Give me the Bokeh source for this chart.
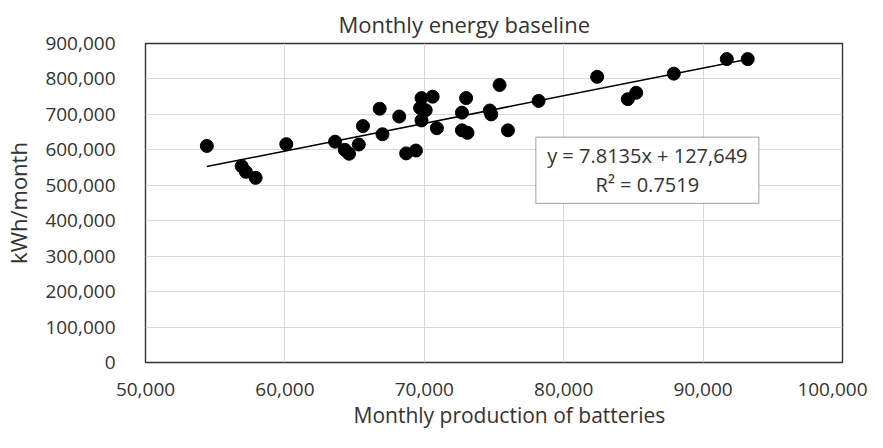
from bokeh.plotting import figure
from bokeh.models import (Range1d, NumeralTickFormatter, FixedTicker, Label,
                          BoxAnnotation, Title)
from bokeh.embed import file_html
from bokeh.resources import INLINE

# ---- data ----
batteries = [54400, 56900, 57200, 57900, 60100, 63600, 64300, 64600, 65300, 65600,
             66800, 67000, 68200, 68700, 69400, 69800, 70600, 69700, 70100, 69800,
             70900, 73000, 72700, 72700, 73100, 75400, 74700, 74800, 76000, 78200,
             82400, 84600, 85200, 87900, 91700, 93200]
kwh = [611000, 554000, 538000, 521000, 616000, 623000, 600000, 589000, 615000, 667000,
       716000, 644000, 694000, 590000, 598000, 746000, 750000, 718000, 712000, 683000,
       661000, 746000, 705000, 655000, 648000, 783000, 711000, 700000, 655000, 738000,
       806000, 743000, 761000, 815000, 856000, 856000]
slope = 7.8135
intercept = 127649
r2 = 0.7519
x_ticks = [50000, 60000, 70000, 80000, 90000, 100000]
y_ticks = [0, 100000, 200000, 300000, 400000, 500000, 600000, 700000, 800000, 900000]
x_title = "Monthly production of batteries"

FONT = "Open Sans"
TXT = "#333333"

p = figure(width=867, height=432, output_backend="svg", toolbar_location=None,
           x_range=Range1d(50000, 100000), y_range=Range1d(0, 900000),
           min_border_left=142, min_border_right=25, min_border_top=43,
           min_border_bottom=70)

p.title.text = "Monthly energy baseline"
p.title.text_font = FONT
p.title.text_font_size = "22px"
p.title.text_font_style = "normal"
p.title.text_color = TXT
p.title.align = "left"
p.title.offset = 193
p.title.standoff = 9

p.outline_line_color = "#333333"
p.outline_line_width = 1.4

for ax, ticks in ((p.xaxis, x_ticks), (p.yaxis, y_ticks)):
    ax.ticker = FixedTicker(ticks=ticks)
    ax.formatter = NumeralTickFormatter(format="0,0")
    ax.major_tick_line_color = None
    ax.minor_tick_line_color = None
    ax.axis_line_color = None
    ax.major_label_text_font = FONT
    ax.major_label_text_font_size = "19px"
    ax.major_label_text_color = TXT
    ax.axis_label_text_font = FONT
    ax.axis_label_text_font_style = "normal"
    ax.axis_label_text_color = TXT

p.yaxis.axis_label = "kWh/month"
p.yaxis.axis_label_text_font_size = "22px"
p.xaxis.major_label_standoff = 14
p.yaxis.major_label_standoff = 24
p.yaxis.axis_label_standoff = 9

# x-axis title, centred as in the reference
p.add_layout(Title(text=x_title, align="left", offset=208, standoff=0,
                   text_font=FONT, text_font_size="21px",
                   text_font_style="normal", text_color=TXT), "below")

p.xgrid.grid_line_color = "#d9d9d9"
p.ygrid.grid_line_color = "#d9d9d9"

# trendline from the fitted equation
x0, x1 = min(batteries), max(batteries)
p.line([x0, x1], [slope * x0 + intercept, slope * x1 + intercept],
       line_color="black", line_width=1.5)

p.scatter(batteries, kwh, size=13, fill_color="black", line_color="black")

# equation box
p.add_layout(BoxAnnotation(left=78000, right=94000, bottom=449000, top=636000,
                           fill_color="white", fill_alpha=1.0,
                           line_color="black", line_width=1.2))
p.add_layout(Label(x=86000, y=585000,
                   text="y = 7.8135x + 127,649",
                   text_align="center", text_baseline="middle",
                   text_font=FONT, text_font_size="20px", text_color=TXT))
p.add_layout(Label(x=86000, y=503000,
                   text="R² = " + str(r2),
                   text_align="center", text_baseline="middle",
                   text_font=FONT, text_font_size="20px", text_color=TXT))

open("out.html", "w").write(file_html(p, INLINE))
